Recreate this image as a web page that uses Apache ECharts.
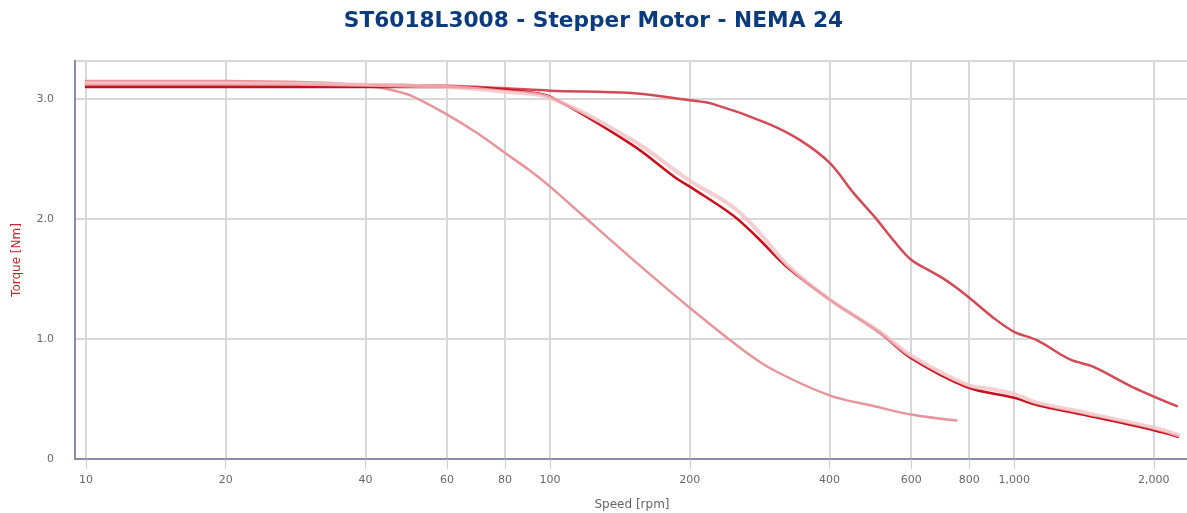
<!DOCTYPE html>
<html>
<head>
<meta charset="utf-8">
<script src="https://cdn.jsdelivr.net/npm/echarts@6/dist/echarts.min.js"></script>
<style>
html,body{margin:0;padding:0;background:#fff;}
#chart{width:1187px;height:513px;}
</style>
</head>
<body>
<div id="chart"></div>
<script>
// Speed [rpm] ticks and torque ticks
var xTicks = [10, 20, 40, 60, 80, 100, 200, 400, 600, 800, 1000, 2000];
var yTicks = [0, 1, 2, 3];

// Series (speed rpm, torque Nm)
var curveHigh = [[10,3.12],[20,3.12],[40,3.12],[60,3.11],[80,3.09],[100,3.07],[150,3.05],[200,2.99],[224,2.96],[293,2.80],[345,2.66],[400,2.47],[450,2.22],[500,2.02],[550,1.82],[600,1.66],[650,1.58],[700,1.51],[750,1.43],[803,1.34],[900,1.18],[1000,1.06],[1119,0.99],[1319,0.83],[1479,0.77],[1800,0.60],[2243,0.44]];
var curveDark = [[10,3.10],[20,3.10],[40,3.10],[60,3.10],[80,3.08],[89,3.06],[100,3.02],[150,2.62],[187,2.34],[200,2.27],[248,2.03],[279,1.85],[324,1.60],[400,1.33],[514,1.05],[600,0.84],[790,0.60],[1000,0.51],[1119,0.45],[1406,0.37],[2000,0.24],[2254,0.186]];
var curvePink = [[10,3.13],[20,3.13],[40,3.12],[60,3.10],[80,3.06],[100,3.01],[150,2.66],[200,2.32],[248,2.10],[279,1.91],[324,1.62],[400,1.33],[514,1.06],[600,0.86],[790,0.62],[900,0.58],[1000,0.54],[1119,0.47],[1406,0.39],[2000,0.26],[2254,0.20]];
var curveLow = [[10,3.15],[20,3.15],[30,3.14],[35,3.13],[40,3.11],[45,3.08],[50,3.03],[60,2.87],[70,2.71],[80,2.55],[90,2.41],[100,2.27],[116,2.05],[150,1.67],[200,1.26],[260,0.91],[300,0.75],[400,0.53],[500,0.44],[600,0.37],[751,0.32]];

var chart = echarts.init(document.getElementById('chart'), null, {renderer:'canvas'});
var FONT = 'DejaVu Sans';
function mk(name, data, color, width, z, opacity){
  return {
    name: name, type: 'line', data: data, smooth: 0.35, showSymbol: false, symbol: 'none',
    lineStyle: {color: color, width: width, opacity: opacity || 1, cap: 'round', join: 'round'},
    z: z, animation: false
  };
}
chart.setOption({
  animation: false,
  title: {
    text: 'ST6018L3008 - Stepper Motor - NEMA 24',
    left: 'center', top: 5,
    textStyle: {fontFamily: FONT, fontSize: 21.7, fontWeight: 'bold', color: '#0c3b7d'}
  },
  grid: {left: 75, right: -2, top: 61, bottom: 54, containLabel: false, outerBoundsMode: 'none',
    show: true, borderColor: '#8a8aaa', borderWidth: 2, backgroundColor: 'transparent'},
  xAxis: {
    type: 'log', logBase: 10, min: 9.47, max: 2381,
    name: 'Speed [rpm]', nameLocation: 'middle', nameGap: 40,
    nameTextStyle: {fontFamily: FONT, fontSize: 12, color: '#666666'},
    axisLine: {show: true, lineStyle: {color: '#8a8aaa', width: 2}},
    axisTick: {show: true, length: 10, customValues: xTicks, lineStyle: {color: '#c0d0e0', width: 1}},
    axisLabel: {customValues: xTicks, fontFamily: FONT, fontSize: 11, color: '#666666', margin: 16,
      formatter: function(v){ return Math.round(v).toLocaleString('en-US'); }},
    splitLine: {show: true, lineStyle: {color: '#d8d8d8', width: 2}},
    minorTick: {show: false}
  },
  yAxis: {
    type: 'value', min: 0, max: 3.317, interval: 1,
    name: 'Torque [Nm]', nameLocation: 'middle', nameGap: 52, nameRotate: 90,
    nameTextStyle: {fontFamily: FONT, fontSize: 12, color: '#c1272d'},
    axisLine: {show: true, lineStyle: {color: '#8a8aaa', width: 2}},
    axisTick: {show: false},
    axisLabel: {fontFamily: FONT, fontSize: 11, color: '#666666', margin: 21,
      customValues: yTicks,
      formatter: function(v){ return v === 0 ? '0' : v.toFixed(1); }},
    splitLine: {show: true, lineStyle: {color: '#d8d8d8', width: 2}}
  },
  series: [
    mk('High', curveHigh, '#d24a55', 2.5, 3),
    mk('Low', curveLow, '#e6959b', 2.5, 4),
    mk('Dark', curveDark, '#c8101c', 2.5, 5),
    mk('Pink', curvePink, '#f3c2c6', 4, 6, 0.8)
  ]
});
</script>
</body>
</html>
